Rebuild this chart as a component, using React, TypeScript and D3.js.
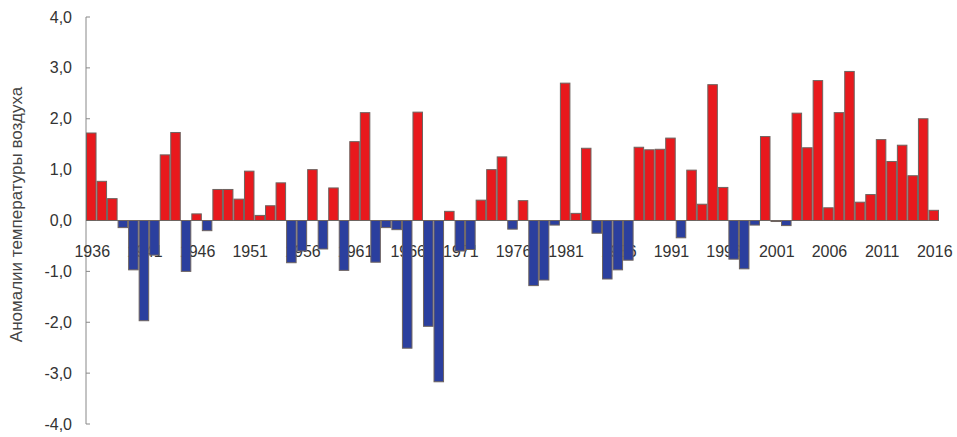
import React from "react";
import * as d3 from "d3";

const years: number[] = d3.range(1936, 2017);
const anomalies: number[] = [
  1.72, 0.77, 0.43, -0.14, -0.97, -1.97, -0.68, 1.29, 1.73, -1.0,
  0.13, -0.2, 0.61, 0.61, 0.42, 0.97, 0.1, 0.29, 0.74, -0.83,
  -0.6, 1.0, -0.56, 0.64, -0.98, 1.55, 2.12, -0.82, -0.14, -0.18,
  -2.51, 2.13, -2.08, -3.17, 0.18, -0.6, -0.57, 0.4, 1.0, 1.25,
  -0.17, 0.39, -1.28, -1.17, -0.09, 2.7, 0.14, 1.42, -0.25, -1.15,
  -0.97, -0.78, 1.44, 1.39, 1.4, 1.62, -0.34, 0.99, 0.32, 2.67,
  0.65, -0.76, -0.95, -0.09, 1.65, -0.02, -0.1, 2.11, 1.43, 2.75,
  0.25, 2.12, 2.93, 0.36, 0.51, 1.59, 1.16, 1.48, 0.88, 2.0,
  0.2,
];
const yTicks: number[] = [4, 3, 2, 1, 0, -1, -2, -3, -4];
const xLabelYears: number[] = d3.range(1936, 2017, 5);
const yTitle = "Аномалии температуры воздуха";

const W = 957;
const H = 437;
const FONT = "'Liberation Sans', Arial, sans-serif";

export default function App() {
  const x = d3.scaleBand<number>().domain(years).range([86, 939]).padding(0);
  const y = d3.scaleLinear().domain([-4, 4]).range([424, 17]);
  const bw = x.bandwidth();
  const fmt = (v: number) => d3.format(".1f")(v).replace(".", ",").replace("−", "-");

  return (
    <svg
      width={W}
      height={H}
      style={{ position: "absolute", left: 0, top: 0, background: "#fff" }}
      fontFamily={FONT}
    >
      <rect x={0} y={0} width={W} height={H} fill="#fff" />
      {/* y axis title */}
      <text
        transform={`translate(22,${(y(4) + y(-4)) / 2 - 6}) rotate(-90)`}
        textAnchor="middle"
        fontSize={17}
        fill="#444"
      >
        {yTitle}
      </text>
      {/* y axis */}
      <line x1={86} x2={86} y1={y(4)} y2={y(-4)} stroke="#888" strokeWidth={1} />
      {yTicks.map((t) => (
        <g key={t}>
          <line x1={86} x2={90} y1={y(t)} y2={y(t)} stroke="#888" strokeWidth={1} />
          <text
            x={72}
            y={y(t)}
            dy="0.35em"
            textAnchor="end"
            fontSize={16}
            fill="#333"
          >
            {fmt(t)}
          </text>
        </g>
      ))}
      {/* x labels (drawn under bars) */}
      {xLabelYears.map((yr) => (
        <text
          key={yr}
          x={(x(yr) as number) + bw / 2 + 1}
          y={y(0) + 36}
          textAnchor="middle"
          fontSize={16}
          fill="#333"
        >
          {yr}
        </text>
      ))}
      {/* zero line */}
      <line x1={86} x2={939} y1={y(0)} y2={y(0)} stroke="#888" strokeWidth={1} />
      {/* bars */}
      {years.map((yr, i) => {
        const v = anomalies[i];
        const y0 = y(Math.max(0, v));
        const h = Math.abs(y(v) - y(0));
        return (
          <rect
            key={yr}
            x={(x(yr) as number) + 0.5}
            y={y0}
            width={bw - 1}
            height={Math.max(h, 0.5)}
            fill={v >= 0 ? "#e8191d" : "#2b3f9e"}
            stroke="#6e6460"
            strokeWidth={1}
          />
        );
      })}
    </svg>
  );
}
